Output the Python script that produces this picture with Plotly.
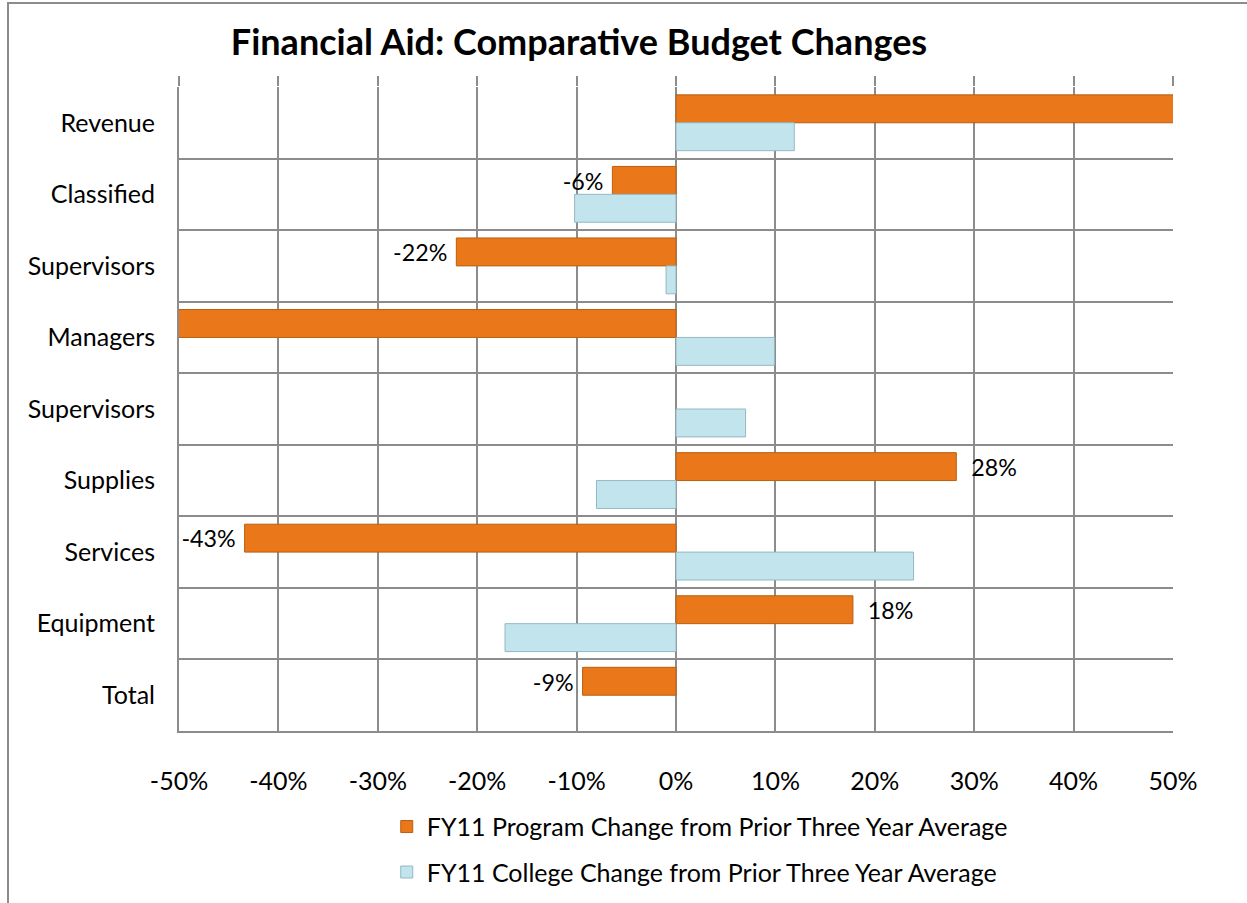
import plotly.graph_objects as go

categories = ["Revenue", "Classified", "Supervisors", "Managers", "Supervisors",
              "Supplies", "Services", "Equipment", "Total"]
program_change = [55.0, -6.4, -22.1, -55.0, None, 28.2, -43.4, 17.8, -9.4]
college_change = [11.9, -10.2, -1.0, 9.9, 7.0, -8.0, 23.9, -17.2, None]
x_ticks = [-50, -40, -30, -20, -10, 0, 10, 20, 30, 40, 50]
x_tick_labels = [f"{v}%" for v in x_ticks]
series_names = ["FY11 Program Change from Prior Three Year Average",
                "FY11 College Change from Prior Three Year Average"]

FONT = "Lato"
GRID = "#8c8c8c"
positions = list(range(len(categories)))
PAD = "\u00a0"


def label(v):
    if v is None or abs(v) >= 50:
        return ""
    s = f"{v:.0f}%"
    return s + PAD if v < 0 else PAD + PAD + s


program_text = [label(v) for v in program_change]

fig = go.Figure()
fig.add_trace(go.Bar(
    y=positions, x=program_change, orientation="h", name=series_names[0],
    marker=dict(color="#EA771A", line=dict(color="#B8600F", width=1)),
    text=program_text, textposition="outside",
    textfont=dict(family=FONT, size=25, color="#000000"),
    cliponaxis=True, legendgroup="a",
))
fig.add_trace(go.Bar(
    y=positions, x=college_change, orientation="h", name=series_names[1],
    marker=dict(color="#C2E4ED", line=dict(color="#94B8C3", width=1)),
    legendgroup="b",
))

fig.update_layout(
    width=1247, height=903,
    margin=dict(l=179, r=74, t=87, b=172, autoexpand=False),
    paper_bgcolor="white", plot_bgcolor="white",
    barmode="group", bargap=0.22, bargroupgap=0,
    font=dict(family=FONT, size=25, color="#000000"),
    title=dict(text="<b>Financial Aid: Comparative Budget Changes</b>",
               x=579 / 1247, xref="container", xanchor="center",
               y=1 - 42 / 903, yref="container", yanchor="middle",
               font=dict(family=FONT, size=36, color="#000000")),
    xaxis=dict(range=[-50, 50], tickmode="array", tickvals=x_ticks, ticktext=x_tick_labels,
               showgrid=True, gridcolor=GRID, gridwidth=2, zeroline=False,
               showline=True, linecolor=GRID, linewidth=2, ticks="",
               ticklabelstandoff=27, tickfont=dict(family=FONT, size=25)),
    xaxis2=dict(range=[-50, 50], overlaying="x", side="top", tickmode="array",
                tickvals=x_ticks, showticklabels=False, ticks="outside", ticklen=10,
                tickwidth=2, tickcolor=GRID, showgrid=False, zeroline=False, showline=False),
    yaxis=dict(range=[8.5, -0.5], tickmode="array", tickvals=positions, ticktext=categories,
               showgrid=False, zeroline=False, showline=True, linecolor=GRID, linewidth=2,
               ticks="", ticklabelstandoff=17, tickfont=dict(family=FONT, size=25),
               minor=dict(tickmode="array", tickvals=[p - 0.5 for p in positions] + [len(positions) - 0.5],
                          showgrid=True, gridcolor=GRID, gridwidth=2, ticks="")),
    showlegend=True,
    legend=dict(x=0.209, xanchor="left", y=-0.113, yanchor="top", orientation="v",
                traceorder="grouped", tracegroupgap=10,
                font=dict(family=FONT, size=25), bgcolor="rgba(0,0,0,0)"),
    shapes=[dict(type="rect", xref="paper", yref="paper",
                 x0=(8 - 179) / 994, x1=(1260 - 179) / 994,
                 y0=(731 - 920) / 644, y1=(731 - 3) / 644,
                 line=dict(color="#8c8c8c", width=2), fillcolor="rgba(0,0,0,0)", layer="below")],
)
fig.add_trace(go.Scatter(x=[None], y=[None], xaxis="x2", showlegend=False, hoverinfo="skip"))

fig.write_html("out.html")
